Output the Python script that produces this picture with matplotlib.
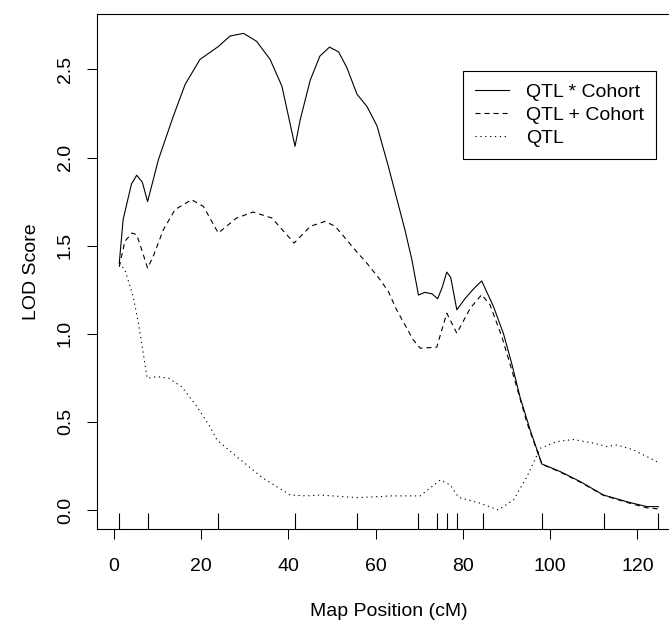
import matplotlib
matplotlib.use('Agg')
import matplotlib.pyplot as plt
import matplotlib.transforms as mtransforms

plt.rcParams['font.family'] = ['Liberation Sans', 'DejaVu Sans']
plt.rcParams['lines.scale_dashes'] = False

# QTL * Cohort (full model)
x_int = [1.2, 2.1, 4.0, 5.2, 6.5, 7.7, 10.2, 13.6, 16.3, 19.7, 23.9, 26.6, 29.7,
         32.7, 35.8, 38.5, 41.5, 42.7, 45.0, 47.2, 49.4, 51.5, 53.4, 55.7, 58.0,
         60.3, 62.9, 66.7, 68.3, 69.8, 71.3, 72.9, 74.2, 75.2, 76.3, 77.2, 78.6,
         80.5, 82.4, 84.3, 87.0, 89.3, 91.2, 93.1, 95.4, 98.1, 102.3, 106.9,
         112.2, 118.3, 122.2, 124.8]
lod_int = [1.40, 1.65, 1.85, 1.90, 1.86, 1.75, 1.99, 2.235, 2.415, 2.557, 2.63,
           2.69, 2.705, 2.66, 2.557, 2.405, 2.064, 2.216, 2.44, 2.576, 2.627, 2.60,
           2.51, 2.36, 2.29, 2.18, 1.95, 1.59, 1.42, 1.22, 1.235, 1.227, 1.199,
           1.26, 1.35, 1.32, 1.136, 1.20, 1.254, 1.30, 1.155, 1.00, 0.83, 0.64,
           0.455, 0.261, 0.218, 0.161, 0.085, 0.042, 0.019, 0.019]

# QTL + Cohort (additive model)
x_add = [1.2, 2.5, 4.1, 5.2, 6.35, 7.7, 9.0, 11.3, 14.0, 17.8, 20.5, 23.9, 28.1,
         31.9, 36.2, 41.3, 45.0, 48.4, 50.7, 52.6, 54.9, 58.0, 61.0, 62.9, 64.8,
         68.6, 70.2, 74.0, 76.3, 78.6, 81.7, 84.3, 86.2, 88.9, 91.2, 94.7, 98.1,
         102.3, 106.9, 112.2, 118.3, 122.2, 124.8]
lod_add = [1.38, 1.525, 1.572, 1.5625, 1.477, 1.373, 1.44, 1.59, 1.705, 1.761,
           1.723, 1.572, 1.657, 1.691, 1.657, 1.515, 1.61, 1.638, 1.61, 1.555,
           1.487, 1.40, 1.307, 1.24, 1.136, 0.966, 0.918, 0.924, 1.117, 1.003,
           1.146, 1.222, 1.165, 0.985, 0.795, 0.493, 0.26, 0.215, 0.158, 0.083,
           0.038, 0.012, 0.006]

# QTL only
x_qtl = [1.2, 2.5, 4.4, 5.6, 6.7, 7.6, 9.8, 12.5, 15.5, 19.0, 22.0, 23.6, 28.1,
         34.2, 40.4, 44.2, 47.2, 55.7, 61.0, 63.3, 70.2, 74.8, 77.1, 79.0, 84.0,
         88.1, 91.6, 94.7, 97.7, 101.5, 105.3, 110.0, 113.0, 115.3, 119.1, 124.5]
lod_qtl = [1.40, 1.364, 1.21, 1.06, 0.89, 0.748, 0.757, 0.748, 0.70, 0.587, 0.473,
           0.398, 0.303, 0.18, 0.085, 0.08, 0.085, 0.07, 0.076, 0.08, 0.08, 0.17,
           0.142, 0.072, 0.038, 0.0, 0.057, 0.19, 0.35, 0.388, 0.40, 0.379, 0.36,
           0.369, 0.341, 0.274]

markers = [1.2, 7.8, 23.9, 41.6, 55.8, 69.6, 74.0, 76.3, 78.6, 84.5, 98.2, 112.4, 124.8]

labels = ['QTL * Cohort', 'QTL + Cohort', 'QTL']

fig = plt.figure(figsize=(6.69, 6.22), dpi=100)
ax = fig.add_axes([97 / 669, 93 / 622, 584 / 669, 515 / 622])

lw = 0.8
ax.plot(x_int, lod_int, color='black', lw=lw, label=labels[0])
ax.plot(x_add, lod_add, color='black', lw=lw, linestyle=(0, (3.6, 2.9)), label=labels[1])
ax.plot(x_qtl, lod_qtl, color='black', lw=lw, linestyle=(0, (0.9, 2.6)), label=labels[2])

# marker rug along the bottom
trans = mtransforms.blended_transform_factory(ax.transData, ax.transAxes)
ax.vlines(markers, 0, 0.031, transform=trans, color='black', lw=0.8)

ax.set_xlim(-3.9, 130)
ax.set_ylim(-0.108, 2.815)
ax.set_xticks([0, 20, 40, 60, 80, 100, 120])
ax.set_yticks([0, 0.5, 1.0, 1.5, 2.0, 2.5])
ax.set_yticklabels(['0.0', '0.5', '1.0', '1.5', '2.0', '2.5'], rotation=90, va='center')

ax.tick_params(direction='out', length=7.2, width=0.75, labelsize=14, colors='black')
ax.tick_params(axis='x', pad=13.5)
ax.tick_params(axis='y', pad=9.5)
for sp in ax.spines.values():
    sp.set_linewidth(0.8)

ax.set_xlabel('Map Position (cM)', fontsize=14)
ax.set_ylabel('LOD Score', fontsize=14)
ax.xaxis.label.set_va('center')
ax.yaxis.label.set_va('center')
ax.xaxis.set_label_coords(0.5, -0.16)
ax.yaxis.set_label_coords(-0.113, 0.5)

leg = ax.legend(loc='upper left', bbox_to_anchor=(462.7 / 669, 551 / 622),
                bbox_transform=fig.transFigure, fontsize=14, fancybox=False,
                edgecolor='black', framealpha=1, borderpad=0.62, labelspacing=0.28,
                handlelength=1.75, handletextpad=0.87, borderaxespad=0)
leg.get_frame().set_linewidth(0.8)

fig.savefig('out.png', dpi=100)
